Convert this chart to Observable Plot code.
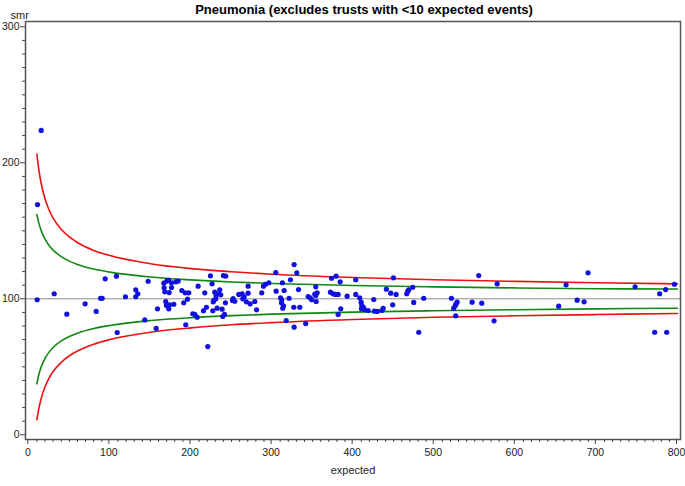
<!DOCTYPE html>
<html>
<head>
<meta charset="utf-8">
<script src="https://cdn.jsdelivr.net/npm/d3@7"></script>
<script src="https://cdn.jsdelivr.net/npm/@observablehq/plot@0.6"></script>
<style>
  html, body { margin: 0; padding: 0; background: #fff; }
  #chart { position: relative; width: 685px; height: 486px; }
</style>
</head>
<body>
<div id="chart"></div>
<script>
const titleText = "Pneumonia (excludes trusts with <10 expected events)";
const xLabel = "expected";
const yLabel = "smr";

// Trusts: expected events and SMR
const expected = [15.3,10.7,10.3,31.3,46.9,69.5,83.1,88.5,90.5,94.2,108.1,109,119.2,131.9,134.4,131.9,143,147.2,
  157.1,158.7,166.5,170.2,172.6,176,181.3,184.2,166.9,167.7,173.1,176,168.9,169.8,172.6,173.5,178.8,188.7,192.8,197.3,195.7,191.1,
  202.2,204.7,207.6,193.6,208.8,
  224,226,240,242.9,217,229.3,231,235.5,234.3,236.7,228.1,230.6,227.4,215.4,219.1,226.9,232.3,238.4,239.2,241.3,242.5,
  252,251.2,254,259,263.1,265.6,263.9,270.5,270.5,268.4,273,278.7,280.8,287.3,289.4,291.9,296,304.6,305,312.8,310.4,312,311.6,
  314.1,313.2,314.9,321,322.7,327.2,330.5,326.8,317.4,327.2,334.2,332.6,341.5,344.5,347,349,352.7,353.9,355.6,353.9,354.4,220.7,
  379,373.3,384,403.2,449.7,372,375.3,377.8,381.5,384.7,381.5,392.6,403.2,408.1,409.8,410.6,412.7,410.2,413.9,418.5,426.3,429.6,
  437,435.3,425.4,441,446.4,453,448.8,466.1,467.3,468.6,473.5,474.7,480.9,
  554.9,577.6,487,521.2,528.2,527,526.1,524,526.5,546.7,558.6,573.8,
  689.7,662.6,747.7,796.2,785.4,778,676.2,684.8,653.5,771.9,786.7];
const smr = [223.8,169.3,99.3,103.7,88.7,96.3,90.7,100.4,100.4,114.7,116.6,75.2,101.5,106.6,103.7,101.5,84.5,112.9,
  78.2,92.6,111.5,113,113.5,111.8,112.5,113,108.1,105.1,104.6,108.3,98,95.1,92.6,95.6,96,106.1,104.4,104.4,99.7,97.1,
  89,88.5,86.5,80.9,109.3,
  116.9,111,117.1,116.7,104.4,104.9,102.4,106.6,103.7,102.9,98.8,100,97.8,91.2,93.8,91.2,93.1,92.4,87,88.5,97.1,
  100.2,98.8,98.2,103.2,103.7,101.7,100,109.3,104.1,97.8,96.3,98,91.9,104.4,109.3,110.7,111.8,119.3,105.6,111.8,100.7,99.3,97.1,
  94.9,93.1,106.1,100.4,114,125.2,119.1,93.8,84,79.1,93.8,106.8,81.8,101.7,100.7,99.3,103.4,102.4,104.4,108.8,98,64.9,
  116.6,115.1,112.5,114,115.4,104.9,103.7,103.2,103.2,92.6,88.5,101.9,103.2,100.7,97.5,95.1,93.8,92.6,92.1,91.4,90.9,90.7,
  92.9,91.4,99.5,107.1,104.1,103.2,95.6,103.7,105.6,106.6,108.5,97.3,75.4,
  117.1,111,100.4,100.4,97.5,96.3,95.1,93.1,87.5,97.5,96.8,83.8,
  119.1,110.3,108.8,110.7,106.8,103.7,99,97.8,94.6,75.4,75.4];

// Control limits read along the funnel
const limitE = [10,12,15,20,25,30,40,50,60,80,100,150,200,250,300,400,500,600,700,800];
const upper998 = [206.5,196.5,185.7,173.5,165.3,159.3,151.1,145.5,141.4,135.6,131.8,125.8,122.2,119.9,118.1,115.7,114,112.8,111.8,111];
const lower998 = [11.1,18.1,26.1,35.3,41.7,46.5,53.3,58.1,61.6,66.6,70,75.4,78.6,80.9,82.5,84.8,86.4,87.5,88.4,89.2];
const upper95 = [162,156.6,150.6,143.8,139.2,135.8,131,127.7,125.3,121.9,119.6,116,113.9,112.4,111.3,109.8,108.8,108,107.4,107.2];
const lower95 = [37.5,43.4,49.4,56.2,60.8,64.2,69,72.3,74.7,78.1,80.4,84,86.1,87.6,88.7,90.2,91.2,92,92.6,93.1];
const target = 100;

const xMajor = [0,100,200,300,400,500,600,700,800];
const yMajor = [0,100,200,300];

const points = expected.map((e, i) => ({e, s: smr[i]}));
const limits = limitE.map((e, i) => ({e, u998: upper998[i], l998: lower998[i], u95: upper95[i], l95: lower95[i]}));
const xMinor = d3.range(0, 801, 10).filter(v => !xMajor.includes(v));
const yMinor = d3.range(0, 301, 10).filter(v => !yMajor.includes(v));

// pick a narrow sans if one is available
function hasFont(name) {
  const c = document.createElement("canvas").getContext("2d");
  c.font = "40px monospace";
  const a = c.measureText("smr 300 expected").width;
  c.font = `40px '${name}', monospace`;
  const b = c.measureText("smr 300 expected").width;
  return Math.abs(a - b) > 0.5;
}
const narrow = hasFont("Liberation Sans Narrow");
const font = narrow ? "'Liberation Sans Narrow', sans-serif" : "'Liberation Sans', Arial, sans-serif";
const fs = narrow ? 12 : 11;
const tfs = narrow ? 12 : 10.5;

const chart = Plot.plot({
  width: 685,
  height: 486,
  marginLeft: 25,
  marginRight: 5,
  marginTop: 21,
  marginBottom: 47,
  style: {fontFamily: font, fontSize: fs + "px", color: "#222", background: "#fff", overflow: "visible"},
  x: {domain: [-4.07, 803.7], label: null},
  y: {domain: [-3.46, 303.9], label: null},
  marks: [
    Plot.ruleY([target], {stroke: "#8c8c8c", strokeWidth: 1}),
    Plot.line(limits, {x: "e", y: "u998", stroke: "#ee1111", strokeWidth: 1.6, curve: "monotone-x"}),
    Plot.line(limits, {x: "e", y: "l998", stroke: "#ee1111", strokeWidth: 1.6, curve: "monotone-x"}),
    Plot.line(limits, {x: "e", y: "u95", stroke: "#118811", strokeWidth: 1.6, curve: "monotone-x"}),
    Plot.line(limits, {x: "e", y: "l95", stroke: "#118811", strokeWidth: 1.6, curve: "monotone-x"}),
    Plot.dot(points, {x: "e", y: "s", r: 2.6, fill: "#1010e0", stroke: "none"}),
    Plot.frame({stroke: "#555", strokeWidth: 1.5}),
    Plot.axisX({ticks: xMajor, tickSize: 5, tickPadding: 4, label: null, tickFormat: d3.format("d"), stroke: "#444", fontSize: tfs, dx: -1}),
    Plot.axisX({ticks: xMinor, tickSize: 3, label: null, tickFormat: () => "", stroke: "#444"}),
    Plot.axisY({ticks: yMajor, tickSize: 5, tickPadding: 1, label: null, tickFormat: d3.format("d"), stroke: "#444", fontSize: tfs}),
    Plot.axisY({ticks: yMinor, tickSize: 3, label: null, tickFormat: () => "", stroke: "#444"}),
    Plot.text([yLabel], {frameAnchor: "top-left", dx: -15, dy: -6, lineAnchor: "middle", text: d => d, fontSize: fs}),
    Plot.text([xLabel], {frameAnchor: "bottom", dy: 31, lineAnchor: "middle", text: d => d, fontSize: fs}),
    Plot.text([titleText], {frameAnchor: "top", dx: 11, dy: -12, lineAnchor: "middle", text: d => d, fontSize: 13, fontWeight: "bold", fontFamily: "'Liberation Sans',Arial,sans-serif", fill: "#000"})
  ]
});
document.getElementById("chart").appendChild(chart);
</script>
</body>
</html>
